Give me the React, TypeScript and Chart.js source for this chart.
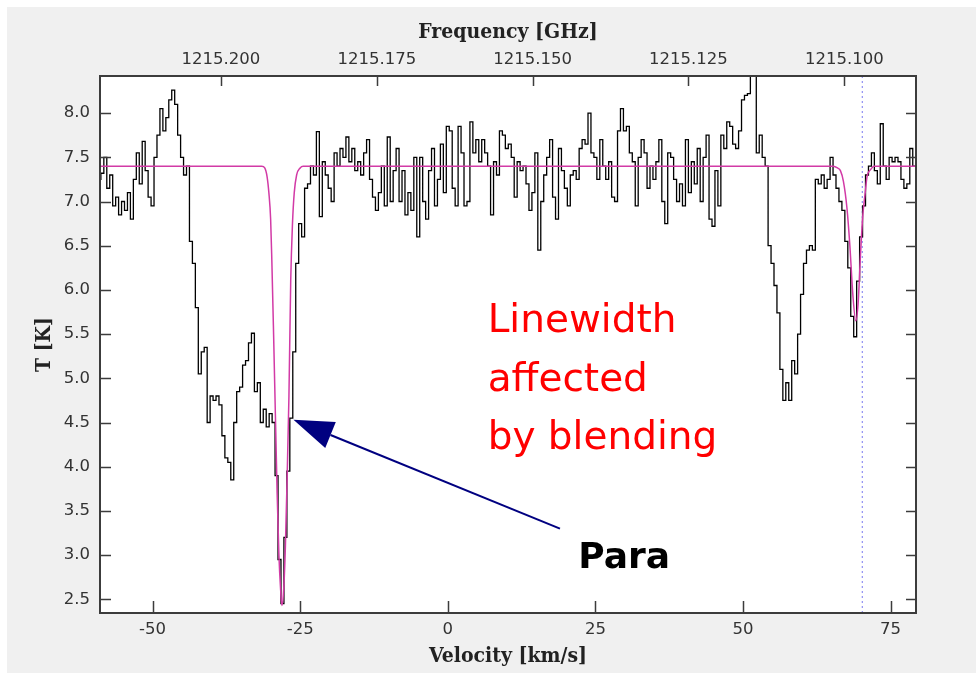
import React, { useEffect, useRef } from "react";
import { Chart, registerables } from "chart.js";

Chart.register(...registerables);

// ---- Spectrum channels (velocity grid) ----
const CHANNEL_START = -59.0; // km/s, first channel centre
const CHANNEL_WIDTH = 0.5; // km/s

// Brightness temperature per channel (T [K])
const spectrumA = [
  7.25, 7.32, 7.5, 7.15, 7.3, 6.95, 7.05, 6.85, 7.0, 6.9,
  7.1, 6.8, 7.25, 7.55, 7.2, 7.68, 7.35, 7.05, 6.95, 7.5,
  7.75, 8.05, 7.8, 7.95, 8.15, 8.26, 8.1, 7.75, 7.5, 7.3,
  7.4, 6.55, 6.3, 5.8, 5.05, 5.3, 5.35, 4.5, 4.8, 4.75,
];
const spectrumB = [
  4.8, 4.7, 4.35, 4.1, 4.05, 3.85, 4.5, 4.85, 4.9, 5.15,
  5.2, 5.4, 5.51, 4.85, 4.95, 4.5, 4.65, 4.45, 4.6, 4.5,
  3.9, 2.95, 2.45, 3.2, 3.95, 4.55, 5.3, 6.3, 6.75, 6.6,
  7.15, 7.2, 7.4, 7.3, 7.79, 6.83, 7.45, 7.3, 7.15, 7.0,
];
const spectrumC = [
  7.55, 7.4, 7.6, 7.5, 7.73, 7.45, 7.6, 7.35, 7.45, 7.3,
  7.55, 7.7, 7.25, 7.05, 6.9, 7.1, 7.4, 6.95, 7.73, 7.0,
  7.35, 7.6, 7.0, 7.35, 6.85, 7.1, 6.9, 7.5, 6.6, 7.5,
  7.0, 6.8, 7.35, 7.6, 6.95, 7.25, 7.65, 7.1, 7.85, 7.8,
];
const spectrumD = [
  7.15, 6.95, 7.85, 7.55, 6.95, 7.0, 7.9, 7.55, 7.7, 7.45,
  7.7, 7.55, 7.4, 6.85, 7.45, 7.3, 7.8, 7.75, 7.6, 7.65,
  7.5, 7.05, 7.45, 7.35, 7.4, 7.2, 6.9, 7.1, 7.55, 6.45,
  7.0, 7.3, 7.5, 7.7, 7.05, 6.8, 7.6, 7.35, 7.15, 6.95,
];
const spectrumE = [
  7.3, 7.35, 7.25, 7.6, 7.7, 7.65, 8.0, 7.55, 7.5, 7.25,
  7.7, 7.4, 7.25, 7.45, 7.05, 7.0, 7.8, 8.05, 7.8, 7.85,
  7.55, 7.45, 6.95, 7.5, 7.7, 7.55, 7.15, 7.4, 7.25, 7.45,
  7.7, 7.0, 6.75, 7.55, 7.5, 7.25, 7.0, 7.2, 6.95, 7.7,
];
const spectrumF = [
  7.1, 7.45, 7.2, 7.6, 7.0, 7.5, 7.75, 6.8, 6.72, 7.35,
  6.95, 7.75, 7.6, 7.9, 7.85, 7.65, 7.6, 7.8, 8.15, 8.2,
  8.22, 8.45, 8.45, 7.55, 7.75, 7.5, 7.4, 6.5, 6.3, 6.05,
  5.74, 5.1, 4.75, 4.95, 4.75, 5.2, 5.05, 5.5, 5.95, 6.3,
];
const spectrumG = [
  6.45, 6.5, 6.45, 7.25, 7.2, 7.3, 7.15, 7.25, 7.5, 7.3,
  7.15, 7.0, 6.9, 6.55, 6.25, 5.7, 5.47, 6.1, 6.6, 6.95,
  7.3, 7.4, 7.55, 7.35, 7.2, 7.88, 7.4, 7.25, 7.5, 7.45,
  7.5, 7.45, 7.25, 7.15, 7.2, 7.6, 7.4, 7.5,
];

// ---- Model fit (magenta) ----
const fitVelocity = [
  -58.9, -31.5, -31.0, -30.6, -30.3, -30.0, -29.8, -29.5, -29.2, -28.9,
  -28.6, -28.3, -28.1, -27.8, -27.5, -27.2, -26.9, -26.6, -26.3, -26.0,
  -25.6, -25.0, -24.5, 65.3, 66.0, 66.5, 67.0, 67.6, 68.1, 68.6,
  69.1, 69.5, 69.9, 70.3, 70.7, 71.0, 71.6, 72.2, 79.3,
];
const fitTemp = [
  7.4, 7.4, 7.38, 7.28, 7.1, 6.8, 6.34, 5.5, 4.6, 3.7,
  3.0, 2.6, 2.43, 2.6, 3.1, 3.9, 4.8, 6.1, 6.75, 7.1,
  7.3, 7.38, 7.4, 7.4, 7.38, 7.35, 7.23, 6.93, 6.5, 5.95,
  5.65, 5.85, 6.4, 6.85, 7.1, 7.28, 7.36, 7.4, 7.4,
];

// ---- Marker line ----
const markerVelocity = 70.2;

// ---- Axes ----
const V_MIN = -58.9;
const V_MAX = 79.3;
const T_MIN = 2.345;
const T_MAX = 8.42;
const F_MIN = 1215.0885;
const F_MAX = 1215.2194;
const velocityTicks = [-50, -25, 0, 25, 50, 75];
const tempTicks = [2.5, 3.0, 3.5, 4.0, 4.5, 5.0, 5.5, 6.0, 6.5, 7.0, 7.5, 8.0];
const freqTicks = [1215.1, 1215.125, 1215.15, 1215.175, 1215.2];

// ---- Annotations (data coordinates) ----
const noteLines = ["Linewidth", "affected", "by blending"];
const noteX = 6.75;
const noteBaselines = [5.526, 4.862, 4.199];
const paraText = "Para";
const paraX = 22.1;
const paraBaseline = 2.853;
const arrowTip = { x: -26.13, y: 4.53 };
const arrowTail = { x: 19.0, y: 3.3 };

const TICK_FONT = { family: '"DejaVu Sans", sans-serif', size: 16.5 };
const TITLE_FONT = { family: '"DejaVu Serif Condensed", "DejaVu Serif", serif', size: 21, weight: "bold" };

const framePlugin = {
  id: "framePlugin",
  beforeDraw(chart: any) {
    const { ctx, chartArea } = chart;
    ctx.save();
    ctx.fillStyle = "#ffffff";
    ctx.fillRect(chartArea.left, chartArea.top, chartArea.right - chartArea.left, chartArea.bottom - chartArea.top);
    ctx.restore();
  },
  afterDraw(chart: any) {
    const { ctx, chartArea, scales } = chart;
    const { left, right, top, bottom } = chartArea;
    ctx.save();
    ctx.strokeStyle = "#3c3c3c";
    ctx.lineWidth = 1.5;
    ctx.beginPath();
    velocityTicks.forEach((v) => {
      const x = Math.round(scales.x.getPixelForValue(v)) + 0.5;
      ctx.moveTo(x, bottom);
      ctx.lineTo(x, bottom - 12);
    });
    freqTicks.forEach((f) => {
      const x = Math.round(scales.x2.getPixelForValue(f)) + 0.5;
      ctx.moveTo(x, top);
      ctx.lineTo(x, top + 10);
    });
    tempTicks.forEach((t) => {
      const y = Math.round(scales.y.getPixelForValue(t)) + 0.5;
      ctx.moveTo(left, y);
      ctx.lineTo(left + 11, y);
      ctx.moveTo(right, y);
      ctx.lineTo(right - 10, y);
    });
    ctx.stroke();
    ctx.lineWidth = 2;
    ctx.strokeRect(left, top, right - left, bottom - top);

    // Red annotation
    ctx.fillStyle = "#ff0000";
    ctx.font = '39px "DejaVu Sans", sans-serif';
    ctx.textBaseline = "alphabetic";
    ctx.textAlign = "left";
    noteLines.forEach((line, i) => {
      ctx.fillText(line, scales.x.getPixelForValue(noteX), scales.y.getPixelForValue(noteBaselines[i]));
    });

    // Para label
    ctx.fillStyle = "#000000";
    ctx.font = 'bold 36px "DejaVu Sans", sans-serif';
    ctx.fillText(paraText, scales.x.getPixelForValue(paraX), scales.y.getPixelForValue(paraBaseline));

    // Arrow
    const tx = scales.x.getPixelForValue(arrowTip.x);
    const ty = scales.y.getPixelForValue(arrowTip.y);
    const sx = scales.x.getPixelForValue(arrowTail.x);
    const sy = scales.y.getPixelForValue(arrowTail.y);
    const dx = sx - tx;
    const dy = sy - ty;
    const len = Math.hypot(dx, dy);
    const ux = dx / len;
    const uy = dy / len;
    const headLen = 40;
    const headHalf = 14;
    const bx = tx + ux * headLen;
    const by = ty + uy * headLen;
    ctx.strokeStyle = "#000080";
    ctx.fillStyle = "#000080";
    ctx.lineWidth = 2;
    ctx.beginPath();
    ctx.moveTo(sx, sy);
    ctx.lineTo(bx, by);
    ctx.stroke();
    ctx.beginPath();
    ctx.moveTo(tx, ty);
    ctx.lineTo(bx - uy * headHalf, by + ux * headHalf);
    ctx.lineTo(bx + uy * headHalf, by - ux * headHalf);
    ctx.closePath();
    ctx.fill();
    ctx.restore();
  },
};

export default function App() {
  const canvasRef = useRef<HTMLCanvasElement | null>(null);

  useEffect(() => {
    const canvas = canvasRef.current;
    if (!canvas) return;
    const spectrum = [
      ...spectrumA, ...spectrumB, ...spectrumC, ...spectrumD,
      ...spectrumE, ...spectrumF, ...spectrumG,
    ];
    const spectrumPoints = spectrum.map((t, i) => ({ x: CHANNEL_START + i * CHANNEL_WIDTH, y: t }));
    const fitPoints = fitVelocity.map((v, i) => ({ x: v, y: fitTemp[i] }));
    const markerPoints = [
      { x: markerVelocity, y: T_MIN },
      { x: markerVelocity, y: T_MAX },
    ];

    const chart = new Chart(canvas, {
      type: "line",
      data: {
        datasets: [
          {
            label: "spectrum",
            data: spectrumPoints,
            borderColor: "#000000",
            borderWidth: 1.3,
            stepped: "middle",
            pointRadius: 0,
            fill: false,
            order: 2,
          },
          {
            label: "fit",
            data: fitPoints,
            borderColor: "#d23aa6",
            borderWidth: 1.5,
            cubicInterpolationMode: "monotone",
            pointRadius: 0,
            fill: false,
            order: 1,
          },
          {
            label: "marker",
            data: markerPoints,
            borderColor: "#7a7af0",
            borderWidth: 1,
            borderDash: [2, 3],
            pointRadius: 0,
            fill: false,
            order: 3,
          },
        ],
      },
      options: {
        responsive: false,
        animation: false,
        events: [],
        layout: { padding: { left: 0, right: 60, top: 0, bottom: 0 } },
        plugins: {
          legend: { display: false },
          tooltip: { enabled: false },
          title: { display: false },
        },
        scales: {
          x: {
            type: "linear",
            position: "bottom",
            min: V_MIN,
            max: V_MAX,
            afterBuildTicks: (s: any) => {
              s.ticks = velocityTicks.map((v) => ({ value: v }));
            },
            afterFit: (s: any) => {
              s.height = 61;
            },
            grid: { display: false, drawTicks: false },
            border: { display: false },
            ticks: {
              autoSkip: false,
              maxRotation: 0,
              padding: 7,
              color: "#333333",
              font: TICK_FONT,
              callback: (v: any) => String(v),
            },
            title: {
              display: true,
              text: "Velocity [km/s]",
              color: "#222222",
              font: TITLE_FONT,
              padding: { top: 0, bottom: 5 },
            },
          },
          x2: {
            type: "linear",
            position: "top",
            reverse: true,
            min: F_MIN,
            max: F_MAX,
            afterBuildTicks: (s: any) => {
              s.ticks = freqTicks.map((v) => ({ value: v }));
            },
            afterFit: (s: any) => {
              s.height = 76;
            },
            grid: { display: false, drawTicks: false },
            border: { display: false },
            ticks: {
              autoSkip: false,
              maxRotation: 0,
              padding: 6,
              color: "#333333",
              font: TICK_FONT,
              callback: (v: any) => Number(v).toFixed(3),
            },
            title: {
              display: true,
              text: "Frequency [GHz]",
              color: "#222222",
              font: TITLE_FONT,
              padding: { top: 20, bottom: 0 },
            },
          },
          y: {
            type: "linear",
            position: "left",
            min: T_MIN,
            max: T_MAX,
            afterBuildTicks: (s: any) => {
              s.ticks = tempTicks.map((v) => ({ value: v }));
            },
            afterFit: (s: any) => {
              s.width = 100;
            },
            grid: { display: false, drawTicks: false },
            border: { display: false },
            ticks: {
              autoSkip: false,
              padding: 10,
              color: "#333333",
              font: TICK_FONT,
              callback: (v: any) => Number(v).toFixed(1),
            },
            title: {
              display: true,
              text: "T [K]",
              color: "#222222",
              font: TITLE_FONT,
              padding: { top: 32, bottom: 0 },
            },
          },
        },
      },
      plugins: [framePlugin],
    } as any);

    return () => {
      chart.destroy();
    };
  }, []);

  return (
    <div
      style={{
        position: "fixed",
        left: 0,
        top: 0,
        width: 976,
        height: 674,
        background: "#ffffff",
      }}
    >
      <div
        style={{
          position: "absolute",
          left: 7,
          top: 7,
          width: 969,
          height: 666,
          background: "#f0f0f0",
        }}
      />
      <canvas
        ref={canvasRef}
        width={976}
        height={674}
        style={{ position: "absolute", left: 0, top: 0, width: 976, height: 674 }}
      />
    </div>
  );
}
